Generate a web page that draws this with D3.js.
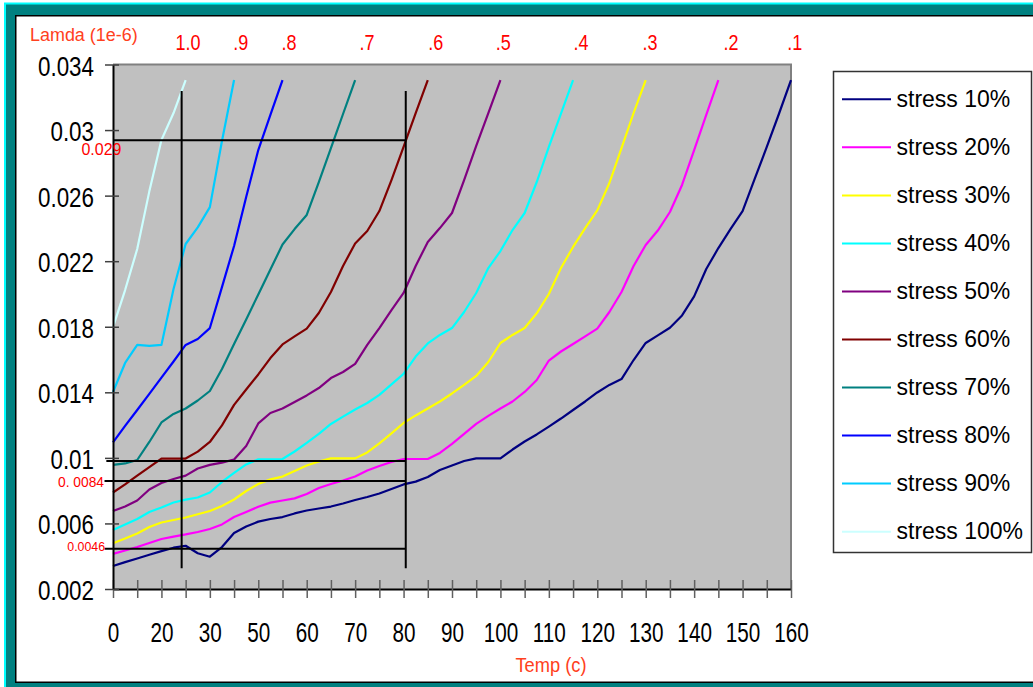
<!DOCTYPE html>
<html><head><meta charset="utf-8">
<script src="https://cdnjs.cloudflare.com/ajax/libs/d3/7.8.5/d3.min.js"></script>
<style>html,body{margin:0;padding:0;background:#fff;overflow:hidden}svg{display:block}text{font-family:"Liberation Sans",Arial,sans-serif}</style>
</head><body><svg id="c" width="1033" height="687"></svg>
<script>
// ---------------- data ----------------
const categoryCount = 57; // category slots along the x axis (ticks every 2, labels every 4)
const xTickLabels = ["0","20","30","50","60","70","80","90","100","110","120","130","140","150","160"];
const yTickValues = [0.002,0.006,0.010,0.014,0.018,0.022,0.026,0.030,0.034];
const yTickLabels = ["0.002","0.006","0.01","0.014","0.018","0.022","0.026","0.03","0.034"];
const seriesNames = ["stress 10%","stress 20%","stress 30%","stress 40%","stress 50%","stress 60%","stress 70%","stress 80%","stress 90%","stress 100%"];
const seriesColors = ["#000080","#ff00ff","#ffff00","#00ffff","#800080","#800000","#008080","#0000ff","#00ccff","#ccffff"];

const s10 = [0.00340,0.00364,0.00386,0.00409,0.00431,0.00452,0.00464,0.00418,0.00397,0.00456,
             0.00542,0.00581,0.00611,0.00627,0.00639,0.00661,0.00679,0.00691,0.00703,0.00722,
             0.00743,0.00761,0.00783,0.00810,0.00838,0.00855,0.00883,0.00926,0.00953,0.00981,
             0.00997,0.00997,0.00997,0.01051,0.01100,0.01143,0.01191,0.01240,0.01292,0.01344,
             0.01399,0.01445,0.01481,0.01597,0.01701,0.01747,0.01794,0.01869,0.01985,0.02152,
             0.02280,0.02396,0.02506,0.02702,0.02897,0.03098,0.03305];
const s20 = [0.00414,0.00435,0.00456,0.00481,0.00505,0.00520,0.00533,0.00548,0.00566,0.00594,
             0.00639,0.00670,0.00702,0.00727,0.00740,0.00753,0.00780,0.00816,0.00841,0.00862,
             0.00886,0.00923,0.00950,0.00975,0.00993,0.00993,0.00993,0.01030,0.01085,0.01146,
             0.01207,0.01256,0.01301,0.01344,0.01402,0.01475,0.01594,0.01649,0.01695,0.01741,
             0.01789,0.01890,0.02012,0.02171,0.02299,0.02387,0.02500,0.02665,0.02878,0.03092,
             0.03305];
const s30 = [0.00479,0.00508,0.00539,0.00578,0.00606,0.00621,0.00636,0.00656,0.00676,0.00706,
             0.00746,0.00798,0.00841,0.00869,0.00886,0.00920,0.00953,0.00978,0.00997,0.00997,
             0.00997,0.01033,0.01088,0.01149,0.01213,0.01259,0.01301,0.01344,0.01393,0.01445,
             0.01500,0.01585,0.01701,0.01750,0.01792,0.01882,0.02000,0.02158,0.02287,0.02402,
             0.02510,0.02677,0.02890,0.03104,0.03305];
const s40 = [0.00560,0.00594,0.00627,0.00670,0.00697,0.00728,0.00745,0.00758,0.00789,0.00853,
             0.00909,0.00960,0.00991,0.00991,0.00993,0.01039,0.01091,0.01146,0.01207,0.01252,
             0.01295,0.01335,0.01384,0.01448,0.01512,0.01618,0.01698,0.01750,0.01792,0.01890,
             0.02006,0.02158,0.02262,0.02390,0.02494,0.02683,0.02897,0.03101,0.03305];
const s50 = [0.00676,0.00703,0.00740,0.00807,0.00847,0.00871,0.00892,0.00935,0.00957,0.00971,
             0.00990,0.01072,0.01210,0.01274,0.01301,0.01341,0.01381,0.01426,0.01487,0.01524,
             0.01573,0.01689,0.01792,0.01902,0.02006,0.02171,0.02317,0.02402,0.02494,0.02695,
             0.02903,0.03104,0.03305];
const s60 = [0.00789,0.00838,0.00892,0.00944,0.00996,0.00996,0.00996,0.01038,0.01097,0.01198,
             0.01323,0.01417,0.01509,0.01609,0.01692,0.01741,0.01789,0.01884,0.02012,0.02171,
             0.02308,0.02384,0.02506,0.02695,0.02897,0.03104,0.03305];
const s70 = [0.00957,0.00966,0.00987,0.01097,0.01216,0.01268,0.01301,0.01350,0.01408,0.01542,
             0.01695,0.01844,0.01997,0.02149,0.02302,0.02396,0.02482,0.02683,0.02890,0.03098,
             0.03305];
const s80 = [0.01094,0.01195,0.01292,0.01390,0.01490,0.01588,0.01689,0.01725,0.01792,0.02042,
             0.02293,0.02592,0.02878,0.03092,0.03305];
const s90 = [0.01402,0.01579,0.01689,0.01683,0.01689,0.02030,0.02305,0.02406,0.02530,0.02933,
             0.03305];
const s100 = [0.01798,0.02024,0.02274,0.02626,0.02939,0.03104,0.03305];
const seriesValues = [s10,s20,s30,s40,s50,s60,s70,s80,s90,s100];

// red stress-ratio labels above the plot (category position of each label)
const topLabels = ["1.0",".9",".8",".7",".6",".5",".4",".3",".2",".1"];
const topLabelPos = [6.19,10.55,14.54,20.98,26.66,32.23,38.66,44.35,51.04,56.31];

// reference (read-off) lines
const refVertPos = [5.67,24.18];
const refVertRange = [0.00326,0.03238];
const refHorizValues = [0.02938,0.00981,0.00859,0.00446];
const refHorizStart = [0,-0.55,-0.7,-0.7];
const refHorizEnd = 24.18;
const refTexts = ["0.029","0. 0084","0.0046"];
const refTextValues = [0.02938,0.00859,0.00446];

// ---------------- drawing ----------------
const svg = d3.select("#c");
const FONT = '"Liberation Sans",Arial,sans-serif';

// frame
svg.append("rect").attr("x",5).attr("y",3.5).attr("width",1100).attr("height",720)
  .attr("fill","#008080").attr("stroke","#00ffff").attr("stroke-width",2);
svg.append("rect").attr("x",15.75).attr("y",15.75).attr("width",1100).attr("height",666.5)
  .attr("fill","#ffffff").attr("stroke","#000").attr("stroke-width",1.5);

const x = d3.scaleLinear().domain([0,categoryCount-1]).range([113,791]);
const y = d3.scaleLinear().domain([0.002,0.034]).range([589,64.5]);

// plot area
svg.append("rect").attr("x",x(0)).attr("y",y(0.034)).attr("width",x(categoryCount-1)-x(0)).attr("height",y(0.002)-y(0.034))
  .attr("fill","#c0c0c0");
svg.append("path").attr("d",`M${x(0)},${y(0.034)}H${x(categoryCount-1)}V${y(0.002)}`)
  .attr("fill","none").attr("stroke","#808080").attr("stroke-width",2);

// series
const line = d3.line().x((d,i)=>x(i)).y(d=>y(d));
seriesValues.forEach((vals,k)=>{
  svg.append("path").datum(vals).attr("d",line).attr("fill","none")
    .attr("stroke",seriesColors[k]).attr("stroke-width",2.2).attr("stroke-linejoin","round");
});

// reference lines
const ref = svg.append("g").attr("stroke","#000").attr("stroke-width",2);
refVertPos.forEach(p=>{
  ref.append("line").attr("x1",x(p)).attr("x2",x(p)).attr("y1",y(refVertRange[1])).attr("y2",y(refVertRange[0]));
});
refHorizValues.forEach((v,i)=>{
  ref.append("line").attr("x1",x(refHorizStart[i])).attr("x2",x(refHorizEnd)).attr("y1",y(v)).attr("y2",y(v));
});

// axes
const xAxis = d3.axisBottom(x).tickValues(d3.range(0,categoryCount,2))
  .tickFormat(d => d%4===0 ? xTickLabels[d/4] : "").tickSizeOuter(0);
const gx = svg.append("g").attr("transform",`translate(0,${y(0.002)})`).call(xAxis);
gx.select(".domain").attr("stroke","#000").attr("stroke-width",2);
gx.selectAll(".tick line").attr("y1",-9).attr("y2",9).attr("stroke","#606060").attr("stroke-width",1.5);
gx.selectAll(".tick text").attr("y",53.5).attr("dy",null).attr("fill","#000")
  .attr("font-size",28).attr("font-family",FONT).attr("transform","scale(0.74,1)");

const yAxis = d3.axisLeft(y).tickValues(yTickValues).tickFormat((d,i)=>yTickLabels[i]).tickSizeOuter(0);
const gy = svg.append("g").attr("transform",`translate(${x(0)},0)`).call(yAxis);
gy.select(".domain").attr("stroke","#000").attr("stroke-width",2);
gy.selectAll(".tick line").attr("x1",-8).attr("x2",6).attr("stroke","#404040").attr("stroke-width",1.5);
gy.selectAll(".tick text").attr("x",-19/0.8).attr("y",10.5).attr("dy",null).attr("fill","#000")
  .attr("font-size",28).attr("font-family",FONT).attr("transform","scale(0.8,1)");

function label(px,py,str,size,sx,anchor,color){
  svg.append("g").attr("transform",`translate(${px},${py}) scale(${sx},1)`)
    .append("text").attr("text-anchor",anchor).attr("font-size",size).attr("font-family",FONT)
    .attr("fill",color).text(str);
}

// titles
label(30,41,"Lamda (1e-6)",18.5,0.97,"start","#ff4020");
label(551,672,"Temp (c)",21,0.87,"middle","#ff4020");

// top ratio labels
topLabels.forEach((t,i)=>label(x(topLabelPos[i]),50,t,22.5,0.8,"middle","#ff0000"));

// reference value labels
label(x(0.7),y(refTextValues[0])+15,refTexts[0],16,1.0,"end","#ff0000");
label(x(-0.74),y(refTextValues[1])+6,refTexts[1],15,0.92,"end","#ff0000");
label(x(-0.66),y(refTextValues[2])+2.5,refTexts[2],13,0.95,"end","#ff0000");

// legend
svg.append("rect").attr("x",833.5).attr("y",71.5).attr("width",198).attr("height",481)
  .attr("fill","#fff").attr("stroke","#333").attr("stroke-width",1.5);
const leg = svg.append("g");
seriesNames.forEach((n,i)=>{
  const ly = 99.3 + i*48.04;
  leg.append("line").attr("x1",842).attr("x2",891).attr("y1",ly).attr("y2",ly)
    .attr("stroke",seriesColors[i]).attr("stroke-width",2);
  leg.append("text").attr("x",896.5).attr("y",ly+7.5).attr("font-size",23).attr("font-family",FONT)
    .attr("fill","#000").text(n);
});
</script></body></html>
